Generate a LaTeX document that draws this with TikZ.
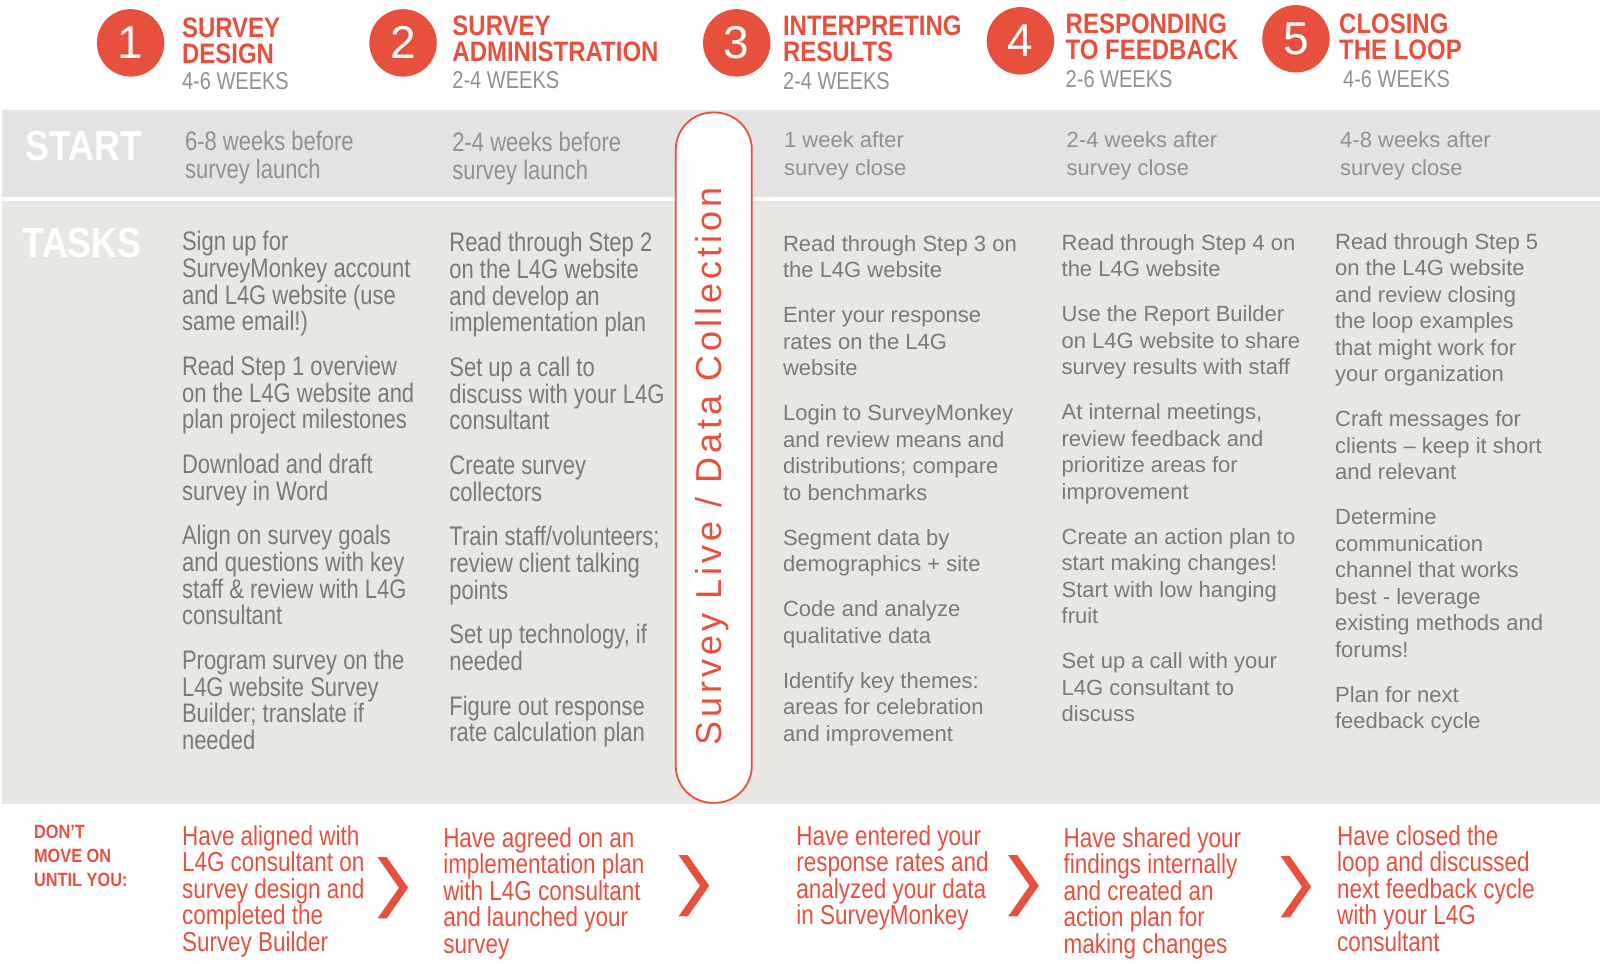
\documentclass[tikz,border=0pt]{standalone}
\usepackage{fontspec}
\setmainfont{Liberation Sans}
\newfontfamily\narrowfont[FakeStretch=0.82]{Liberation Sans}
\newfontfamily\headfont[FakeStretch=0.85]{Liberation Sans}
\newfontfamily\spacedfont[LetterSpace=11]{Liberation Sans}
\usetikzlibrary{positioning}

\definecolor{l4gred}{HTML}{E8503E}
\definecolor{startgrey}{HTML}{E3E3E3}
\definecolor{taskgrey}{HTML}{E8E7E1}
\definecolor{textgrey}{HTML}{7A7A7A}
\definecolor{lightgrey}{HTML}{919191}

\tikzstyle{stepnum} = [circle, fill=l4gred, text=white, minimum size=33.7pt,
                       inner sep=0pt, font=\fontsize{23}{23}\selectfont]
\tikzstyle{steptitle} = [anchor=north west, inner sep=0pt, align=left,
                         text=l4gred, font=\headfont\bfseries\fontsize{14.1}{13}\selectfont]
\tikzstyle{weeks} = [inner sep=0pt, text=lightgrey,
                     font=\narrowfont\fontsize{12.2}{12.2}\selectfont]
\tikzstyle{rowlabel} = [anchor=north west, inner sep=0pt, text=white,
                        font=\headfont\bfseries\fontsize{21}{21}\selectfont]
\tikzstyle{startn} = [anchor=north west, inner sep=0pt, align=left, text=lightgrey,
                      font=\narrowfont\fontsize{13.4}{13.8}\selectfont]
\tikzstyle{startw} = [anchor=north west, inner sep=0pt, align=left, text=lightgrey,
                      font=\fontsize{11}{13.8}\selectfont]
\tikzstyle{taskn} = [anchor=north west, inner sep=0pt, align=left, text=textgrey,
                     font=\narrowfont\fontsize{13.4}{13.26}\selectfont]
\tikzstyle{taskw} = [anchor=north west, inner sep=0pt, align=left, text=textgrey,
                     font=\fontsize{11}{13.26}\selectfont]
\tikzstyle{goal} = [anchor=north west, inner sep=0pt, align=left, text=l4gred,
                    font=\narrowfont\fontsize{13.7}{13.26}\selectfont]
\tikzstyle{pill} = [draw=l4gred, line width=0.9pt, fill=white, rounded corners=18.5pt,
                    minimum width=345pt, minimum height=38pt, inner sep=0pt]
\tikzstyle{chevron} = [fill=l4gred]

\begin{document}
\begin{tikzpicture}[x=0.51pt, y=-0.51pt]
\useasboundingbox (0,0) rectangle (1568,944);

% background bands
\fill[startgrey] (2,108) rectangle (1568,193);
\fill[taskgrey] (2,197) rectangle (1568,788);

% the survey live column
\node [pill, rotate=90] (live) at (699.5,448.5) {};
\node [rotate=90, inner sep=0pt, text=l4gred, font=\spacedfont\fontsize{18}{18}\selectfont]
	(livetext) at (698,457) {Survey Live / Data Collection};

% step headers
\node [stepnum] (num1) at (128,42) {1};
\node [stepnum] (num2) at (395,42) {2};
\node [stepnum] (num3) at (722,42) {3};
\node [stepnum] (num4) at (1000,40) {4};
\node [stepnum] (num5) at (1270,38) {5};
\node [steptitle] (title1) at (178,17) {SURVEY\\DESIGN};
\node [steptitle] (title2) at (443,15) {SURVEY\\ADMINISTRATION};
\node [steptitle] (title3) at (767,15) {INTERPRETING\\RESULTS};
\node [steptitle] (title4) at (1044,13) {RESPONDING\\TO FEEDBACK};
\node [steptitle] (title5) at (1312,13) {CLOSING\\THE LOOP};
\node [weeks, below right=4pt and 0pt of title1.south west] (weeks1) {4-6 WEEKS};
\node [weeks, below right=4.5pt and 0pt of title2.south west] (weeks2) {2-4 WEEKS};
\node [weeks, below right=5pt and 0pt of title3.south west] (weeks3) {2-4 WEEKS};
\node [weeks, below right=5pt and 0pt of title4.south west] (weeks4) {2-6 WEEKS};
\node [weeks, below right=5pt and 2pt of title5.south west] (weeks5) {4-6 WEEKS};

% start row
\node [rowlabel] (startlabel) at (25,128) {START};
\node [startn] (start1) at (181,128.5) {6-8 weeks before\\survey launch};
\node [startn] (start2) at (443,129.5) {2-4 weeks before\\survey launch};
\node [startw] (start3) at (768,129) {1 week after\\survey close};
\node [startw] (start4) at (1045,129) {2-4 weeks after\\survey close};
\node [startw] (start5) at (1313,129) {4-8 weeks after\\survey close};

% tasks row
\node [rowlabel] (tasklabel) at (22,223) {TASKS};
\node [taskn] (tasks1) at (178,226.5)
	{Sign up for\\SurveyMonkey account\\and L4G website (use\\same email!)\\[9.2pt]
	Read Step 1 overview\\on the L4G website and\\plan project milestones\\[9.2pt]
	Download and draft\\survey in Word\\[9.2pt]
	Align on survey goals\\and questions with key\\staff \& review with L4G\\consultant\\[9.2pt]
	Program survey on the\\L4G website Survey\\Builder; translate if\\needed};
\node [taskn] (tasks2) at (440,227.5)
	{Read through Step 2\\on the L4G website\\and develop an\\implementation plan\\[9.2pt]
	Set up a call to\\discuss with your L4G\\consultant\\[9.2pt]
	Create survey\\collectors\\[9.2pt]
	Train staff/volunteers;\\review client talking\\points\\[9.2pt]
	Set up technology, if\\needed\\[9.2pt]
	Figure out response\\rate calculation plan};
\node [taskw] (tasks3) at (767,230)
	{Read through Step 3 on\\the L4G website\\[9.2pt]
	Enter your response\\rates on the L4G\\website\\[9.2pt]
	Login to SurveyMonkey\\and review means and\\distributions; compare\\to benchmarks\\[9.2pt]
	Segment data by\\demographics + site\\[9.2pt]
	Code and analyze\\qualitative data\\[9.2pt]
	Identify key themes:\\areas for celebration\\and improvement};
\node [taskw] (tasks4) at (1040,229)
	{Read through Step 4 on\\the L4G website\\[9.2pt]
	Use the Report Builder\\on L4G website to share\\survey results with staff\\[9.2pt]
	At internal meetings,\\review feedback and\\prioritize areas for\\improvement\\[9.2pt]
	Create an action plan to\\start making changes!\\Start with low hanging\\fruit\\[9.2pt]
	Set up a call with your\\L4G consultant to\\discuss};
\node [taskw] (tasks5) at (1308,228)
	{Read through Step 5\\on the L4G website\\and review closing\\the loop examples\\that might work for\\your organization\\[9.2pt]
	Craft messages for\\clients – keep it short\\and relevant\\[9.2pt]
	Determine\\communication\\channel that works\\best - leverage\\existing methods and\\forums!\\[9.2pt]
	Plan for next\\feedback cycle};

% don't move on row
\node [anchor=north west, inner sep=0pt, align=left, text=l4gred,
	font=\headfont\bfseries\fontsize{9.6}{12}\selectfont]
	(dontmove) at (33,808) {DON’T\\MOVE ON\\UNTIL YOU:};
\node [goal] (goal1) at (178,808.5)
	{Have aligned with\\L4G consultant on\\survey design and\\completed the\\Survey Builder};
\node [goal] (goal2) at (434,810.5)
	{Have agreed on an\\implementation plan\\with L4G consultant\\and launched your\\survey};
\node [goal] (goal3) at (780,808.5)
	{Have entered your\\response rates and\\analyzed your data\\in SurveyMonkey};
\node [goal] (goal4) at (1042,810.5)
	{Have shared your\\findings internally\\and created an\\action plan for\\making changes};
\node [goal] (goal5) at (1310,808.5)
	{Have closed the\\loop and discussed\\next feedback cycle\\with your L4G\\consultant};

% arrows between the goals
\coordinate (chev1) at (370,870);
\coordinate (chev2) at (665,868);
\coordinate (chev3) at (988,868);
\coordinate (chev4) at (1255,869);
\fill [chevron] (chev1) ++(0,-30) -- ++(9,0) -- ++(21,30) -- ++(-21,30) -- ++(-9,0) -- ++(21,-30) -- cycle;
\fill [chevron] (chev2) ++(0,-30) -- ++(9,0) -- ++(21,30) -- ++(-21,30) -- ++(-9,0) -- ++(21,-30) -- cycle;
\fill [chevron] (chev3) ++(0,-30) -- ++(9,0) -- ++(21,30) -- ++(-21,30) -- ++(-9,0) -- ++(21,-30) -- cycle;
\fill [chevron] (chev4) ++(0,-30) -- ++(9,0) -- ++(21,30) -- ++(-21,30) -- ++(-9,0) -- ++(21,-30) -- cycle;
\end{tikzpicture}
\end{document}
